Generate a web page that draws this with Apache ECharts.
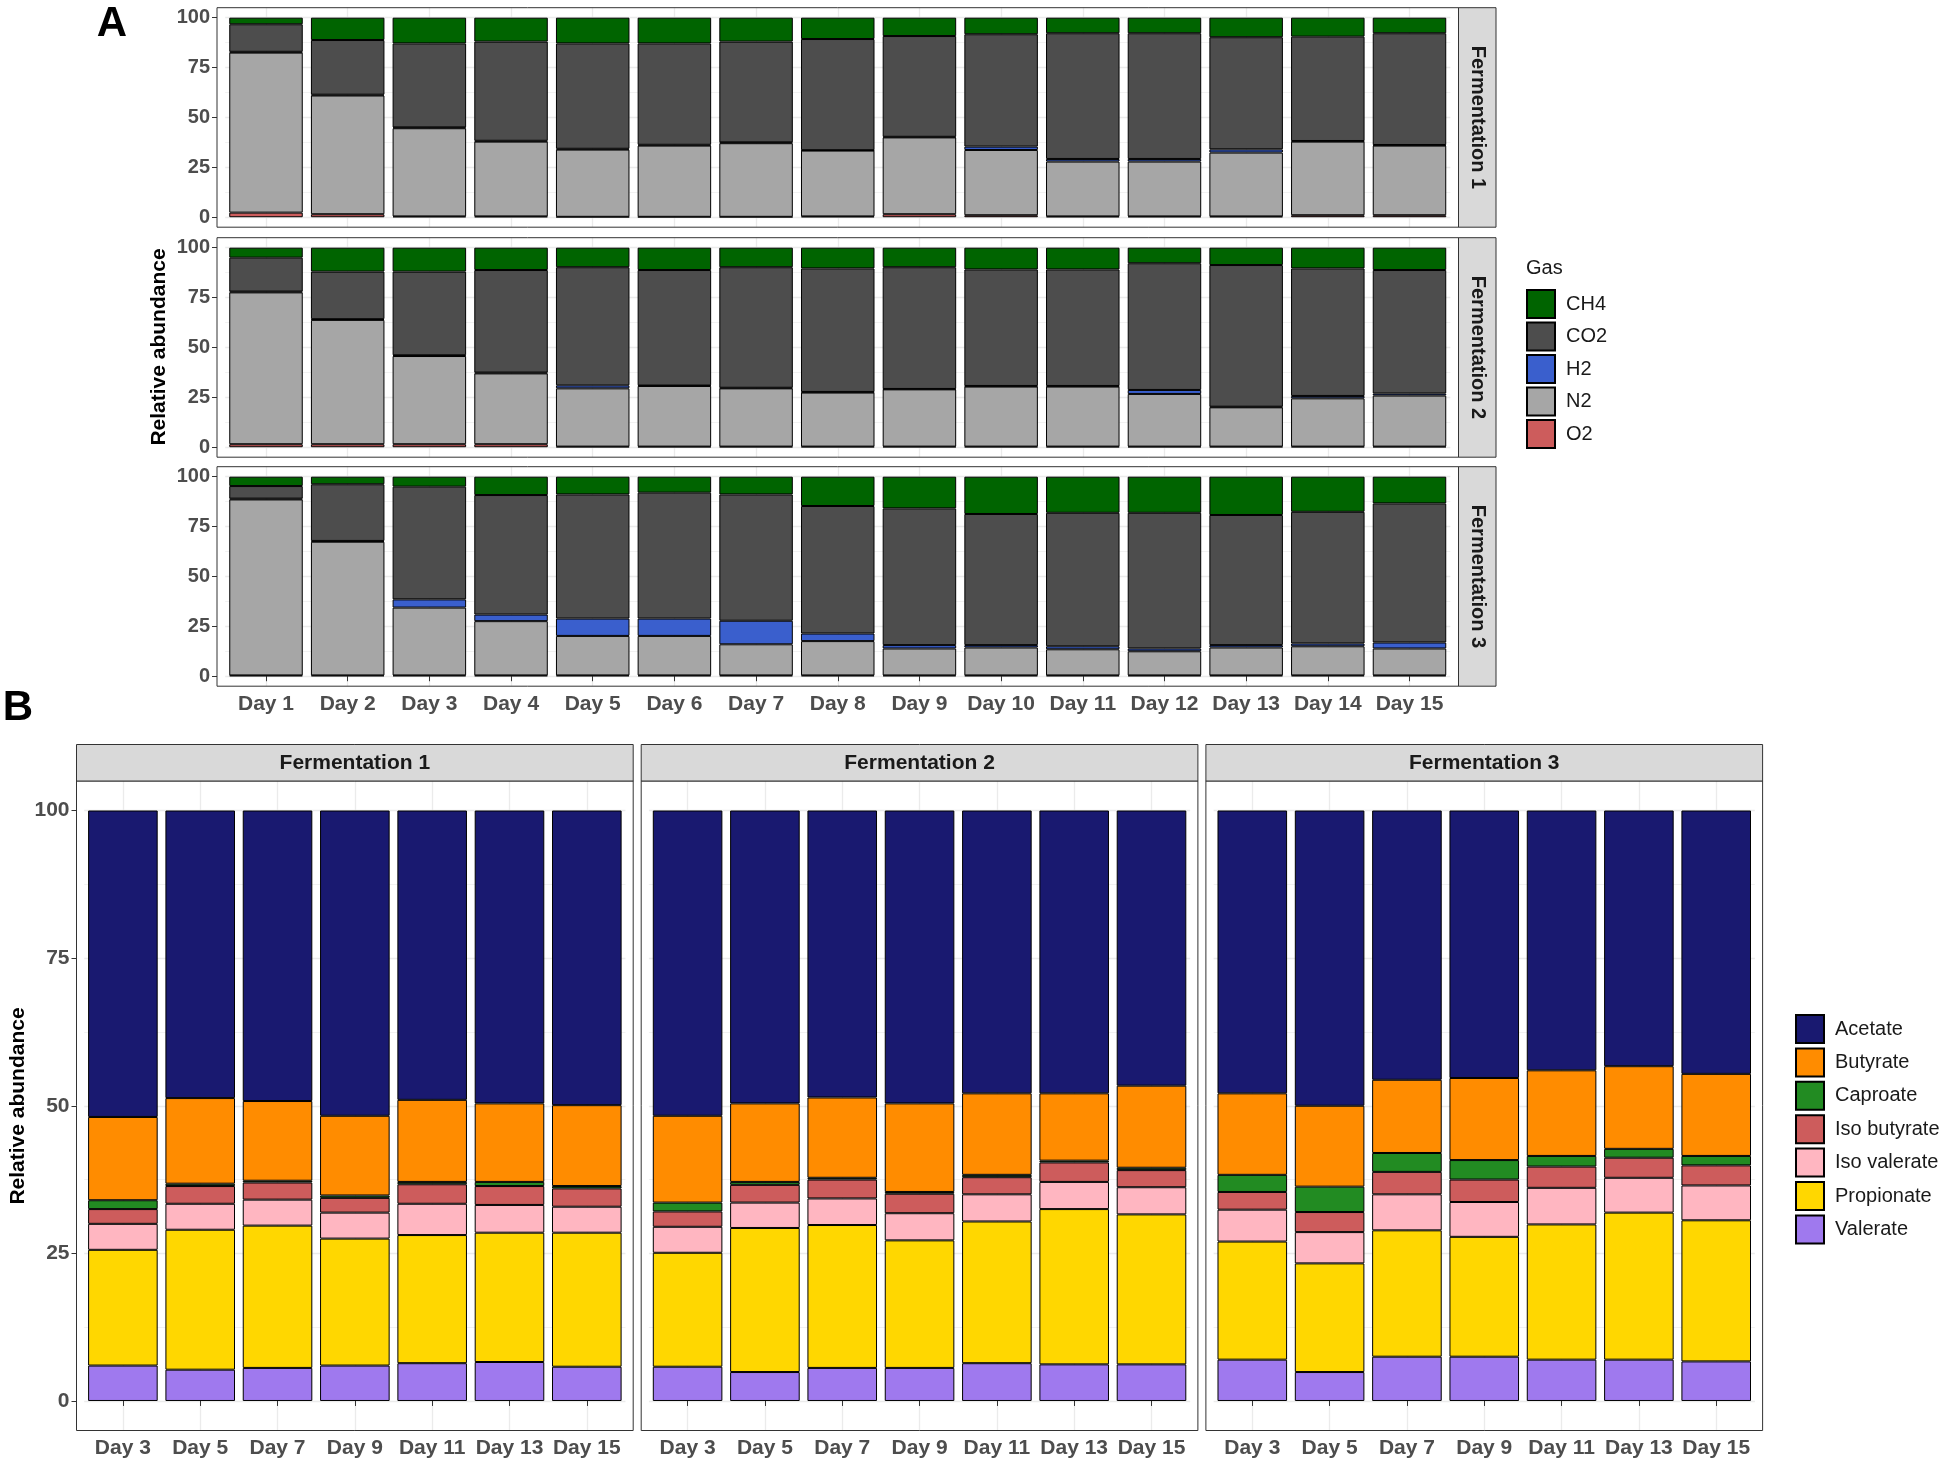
<!DOCTYPE html>
<html><head><meta charset="utf-8">
<script src="https://cdn.jsdelivr.net/npm/echarts@6/dist/echarts.min.js"></script>
<style>html,body{margin:0;padding:0;background:#fff}#c{width:1946px;height:1468px}</style>
</head><body><div id="c"></div>
<script>
// ---------- DATA: Panel A (gas composition, %) ----------
const gasDays = ['Day 1','Day 2','Day 3','Day 4','Day 5','Day 6','Day 7','Day 8','Day 9','Day 10','Day 11','Day 12','Day 13','Day 14','Day 15'];
const gasLegend = ['CH4','CO2','H2','N2','O2'];
const gasFacets = ['Fermentation 1','Fermentation 2','Fermentation 3'];
const yTicks = [0, 25, 50, 75, 100];
const yMinorTicks = [12.5, 37.5, 62.5, 87.5];

const F1_O2  = [2.3, 1.5, 0.4, 0.4, 0.2, 0.2, 0.2, 0.4, 1.5, 1.0, 0.4, 0.4, 0.4, 1.0, 1.0];
const F1_N2  = [80.2, 59.5, 44.2, 37.5, 33.7, 35.7, 36.9, 33.0, 38.5, 32.7, 27.5, 27.5, 32.0, 36.9, 34.9];
const F1_H2  = [0.4, 0.4, 0.4, 0.4, 0.4, 0.4, 0.4, 0.2, 0.3, 1.7, 1.3, 1.3, 1.6, 0.3, 0.3];
const F1_CO2 = [13.8, 27.4, 42.1, 49.7, 52.8, 50.8, 50.5, 55.7, 50.5, 56.3, 63.0, 63.0, 56.2, 52.3, 56.0];
const F1_CH4 = [3.3, 11.2, 12.9, 12.0, 12.9, 12.9, 12.0, 10.7, 9.2, 8.3, 7.8, 7.8, 9.8, 9.5, 7.8];

const F2_O2  = [1.5, 1.5, 1.5, 1.5, 0.3, 0.3, 0.3, 0.3, 0.3, 0.3, 0.3, 0.3, 0.3, 0.3, 0.3];
const F2_N2  = [76.1, 62.3, 44.2, 35.5, 29.2, 30.4, 29.2, 27.1, 28.7, 30.1, 30.1, 26.4, 19.7, 24.2, 25.6];
const F2_H2  = [0.4, 0.4, 0.4, 0.4, 1.5, 0.3, 0.3, 0.3, 0.2, 0.3, 0.3, 2.0, 0.3, 1.2, 1.0];
const F2_CO2 = [17.0, 23.8, 41.9, 51.4, 59.2, 57.8, 60.4, 61.9, 61.0, 58.4, 58.4, 63.5, 71.0, 63.9, 61.9];
const F2_CH4 = [5.0, 12.0, 12.0, 11.2, 9.8, 11.2, 9.8, 10.4, 9.8, 10.9, 10.9, 7.8, 8.7, 10.4, 11.2];

const F3_O2  = [0.4, 0.4, 0.4, 0.4, 0.4, 0.4, 0.4, 0.4, 0.4, 0.4, 0.4, 0.4, 0.4, 0.4, 0.4];
const F3_N2  = [88.2, 67.0, 34.0, 27.2, 19.8, 19.8, 15.6, 17.2, 13.5, 14.0, 13.1, 12.1, 14.0, 14.6, 13.5];
const F3_H2  = [0.4, 0.4, 4.1, 3.3, 8.7, 8.7, 11.8, 3.8, 1.7, 1.2, 1.5, 1.4, 1.2, 1.4, 3.0];
const F3_CO2 = [6.3, 28.4, 56.5, 59.9, 62.2, 63.1, 63.3, 63.9, 68.5, 65.7, 66.9, 68.0, 65.2, 66.0, 69.7];
const F3_CH4 = [4.7, 3.8, 5.0, 9.2, 8.9, 8.0, 8.9, 14.7, 15.9, 18.7, 18.1, 18.1, 19.2, 17.6, 13.4];

// ---------- DATA: Panel B (VFA composition, %) ----------
const vfaDays = ['Day 3','Day 5','Day 7','Day 9','Day 11','Day 13','Day 15'];
const vfaLegend = ['Acetate','Butyrate','Caproate','Iso butyrate','Iso valerate','Propionate','Valerate'];

const B1_Valerate    = [6.0, 5.3, 5.6, 6.0, 6.4, 6.6, 5.8];
const B1_Propionate  = [19.6, 23.7, 24.1, 21.5, 21.7, 21.9, 22.7];
const B1_IsoValerate = [4.4, 4.4, 4.4, 4.4, 5.3, 4.7, 4.4];
const B1_IsoButyrate = [2.5, 3.0, 2.9, 2.5, 3.3, 3.2, 3.1];
const B1_Caproate    = [1.5, 0.4, 0.3, 0.4, 0.4, 0.7, 0.4];
const B1_Butyrate    = [14.1, 14.5, 13.5, 13.5, 13.9, 13.3, 13.7];
const B1_Acetate     = [51.9, 48.7, 49.2, 51.7, 49.0, 49.6, 49.9];

const B2_Valerate    = [5.8, 4.9, 5.6, 5.6, 6.4, 6.2, 6.2];
const B2_Propionate  = [19.3, 24.4, 24.2, 21.6, 24.0, 26.3, 25.4];
const B2_IsoValerate = [4.4, 4.3, 4.5, 4.6, 4.6, 4.6, 4.6];
const B2_IsoButyrate = [2.6, 3.0, 3.2, 3.3, 2.9, 3.3, 2.9];
const B2_Caproate    = [1.5, 0.5, 0.3, 0.3, 0.4, 0.3, 0.4];
const B2_Butyrate    = [14.7, 13.3, 13.6, 15.0, 13.8, 11.4, 13.9];
const B2_Acetate     = [51.7, 49.6, 48.6, 49.6, 47.9, 47.9, 46.6];

const B3_Valerate    = [7.0, 4.9, 7.5, 7.5, 7.0, 7.0, 6.7];
const B3_Propionate  = [20.0, 18.4, 21.4, 20.3, 22.9, 24.9, 23.9];
const B3_IsoValerate = [5.4, 5.3, 6.1, 5.9, 6.2, 5.9, 5.9];
const B3_IsoButyrate = [3.0, 3.4, 3.8, 3.8, 3.6, 3.4, 3.4];
const B3_Caproate    = [2.9, 4.3, 3.2, 3.3, 1.8, 1.5, 1.6];
const B3_Butyrate    = [13.8, 13.7, 12.4, 13.9, 14.5, 14.0, 13.9];
const B3_Acetate     = [47.9, 50.0, 45.6, 45.3, 44.0, 43.3, 44.6];

// ---------- tables built from the arrays ----------
const gasRows = [
  {O2:F1_O2, N2:F1_N2, H2:F1_H2, CO2:F1_CO2, CH4:F1_CH4},
  {O2:F2_O2, N2:F2_N2, H2:F2_H2, CO2:F2_CO2, CH4:F2_CH4},
  {O2:F3_O2, N2:F3_N2, H2:F3_H2, CO2:F3_CO2, CH4:F3_CH4}
];
const vfaCols = [
  {'Valerate':B1_Valerate,'Propionate':B1_Propionate,'Iso valerate':B1_IsoValerate,'Iso butyrate':B1_IsoButyrate,'Caproate':B1_Caproate,'Butyrate':B1_Butyrate,'Acetate':B1_Acetate},
  {'Valerate':B2_Valerate,'Propionate':B2_Propionate,'Iso valerate':B2_IsoValerate,'Iso butyrate':B2_IsoButyrate,'Caproate':B2_Caproate,'Butyrate':B2_Butyrate,'Acetate':B2_Acetate},
  {'Valerate':B3_Valerate,'Propionate':B3_Propionate,'Iso valerate':B3_IsoValerate,'Iso butyrate':B3_IsoButyrate,'Caproate':B3_Caproate,'Butyrate':B3_Butyrate,'Acetate':B3_Acetate}
];

// ---------- styles / layout ----------
const FONT = '"Liberation Sans", Arial, Helvetica, sans-serif';
const gasColors = {CH4:'#006400', CO2:'#4d4d4d', H2:'#3a5fcd', N2:'#a6a6a6', O2:'#cd5c5c'};
const gasStack = ['O2','N2','H2','CO2','CH4'];
const vfaColors = {'Acetate':'#191970','Butyrate':'#ff8c00','Caproate':'#228b22','Iso butyrate':'#cd5c5c','Iso valerate':'#ffb6c1','Propionate':'#ffd700','Valerate':'#9f79ee'};
const vfaStack = ['Valerate','Propionate','Iso valerate','Iso butyrate','Caproate','Butyrate','Acetate'];

const A_L = 217, A_R = 1458.5, A_TOPS = [7.7, 237.7, 466.7], A_H = 219.5, A_STRIP_W = 37.5;
const B_LEFTS = [76.5, 641.2, 1205.9], B_W = 556.7, B_TOP = 781, B_H = 649.5, B_STRIP_H = 36.5;
const BORDER = '#333333', STRIP_FILL = '#d9d9d9', TICK_COL = '#4d4d4d', GRID_COL = '#ebebeb';

const grid = [], xAxis = [], yAxis = [], series = [], graphic = [];

// faint panel grid (theme_bw style), drawn behind the bars through the axes
function gridLines(gi, cats) {
  const data = [];
  yTicks.forEach(v => data.push({yAxis: v, lineStyle: {width: 1.3}}));
  yMinorTicks.forEach(v => data.push({yAxis: v, lineStyle: {width: 0.7}}));
  cats.forEach(c => data.push({xAxis: c, lineStyle: {width: 1.3}}));
  return {type:'line', name:'_grid' + gi, xAxisIndex:gi, yAxisIndex:gi, data:[], z:0, silent:true,
    markLine:{silent:true, symbol:'none', label:{show:false}, animation:false, z:0,
      lineStyle:{color:GRID_COL, type:'solid'}, emphasis:{disabled:true}, data}};
}

// Panel A
const sA = (A_R - A_L) / (gasDays.length + 0.2);
gasRows.forEach((row, i) => {
  const gi = grid.length;
  grid.push({left: A_L + 0.1 * sA, top: A_TOPS[i], width: sA * gasDays.length, height: A_H});
  xAxis.push({type:'category', gridIndex:gi, data:gasDays, axisLine:{show:false},
    axisTick:{show:i===2, alignWithLabel:true, length:5, lineStyle:{color:BORDER, width:1}},
    axisLabel:{show:i===2, interval:0, margin:8, fontSize:21, fontWeight:'bold', color:TICK_COL, fontFamily:FONT},
    splitLine:{show:false}});
  yAxis.push({type:'value', gridIndex:gi, min:-5, max:105, interval:5, offset:0.1 * sA,
    axisLine:{show:false},
    axisTick:{show:true, customValues:yTicks, length:5, lineStyle:{color:BORDER, width:1}},
    axisLabel:{customValues:yTicks, margin:7, fontSize:20, fontWeight:'bold', color:TICK_COL, fontFamily:FONT},
    splitLine:{show:false}});
  series.push(gridLines(gi, gasDays));
  gasStack.forEach(g => {
    series.push({type:'bar', name:g, xAxisIndex:gi, yAxisIndex:gi, stack:'gas' + i, data:row[g], z:2,
      barWidth:'90%', itemStyle:{color:gasColors[g], borderColor:'#000', borderWidth:1}});
  });
  graphic.push({type:'rect', shape:{x:A_L, y:A_TOPS[i], width:A_R - A_L, height:A_H},
    style:{fill:'none', stroke:BORDER, lineWidth:1}, z:100});
  graphic.push({type:'rect', shape:{x:A_R, y:A_TOPS[i], width:A_STRIP_W, height:A_H},
    style:{fill:STRIP_FILL, stroke:BORDER, lineWidth:1}, z:100});
  graphic.push({type:'text', x:A_R + A_STRIP_W / 2, y:A_TOPS[i] + A_H / 2, rotation:-Math.PI / 2, z:101,
    style:{text:gasFacets[i], font:'bold 20px ' + FONT, fill:'#1a1a1a', align:'center', verticalAlign:'middle', textAlign:'center', textVerticalAlign:'middle'}});
});

// Panel B
const sB = B_W / (vfaDays.length + 0.2);
vfaCols.forEach((col, j) => {
  const gi = grid.length;
  const L = B_LEFTS[j];
  grid.push({left: L + 0.1 * sB, top: B_TOP, width: sB * vfaDays.length, height: B_H});
  xAxis.push({type:'category', gridIndex:gi, data:vfaDays, axisLine:{show:false},
    axisTick:{show:true, alignWithLabel:true, length:5, lineStyle:{color:BORDER, width:1}},
    axisLabel:{show:true, interval:0, margin:7, fontSize:21, fontWeight:'bold', color:TICK_COL, fontFamily:FONT},
    splitLine:{show:false}});
  yAxis.push({type:'value', gridIndex:gi, min:-5, max:105, interval:5, offset:0.1 * sB,
    axisLine:{show:false},
    axisTick:{show:j===0, customValues:yTicks, length:5, lineStyle:{color:BORDER, width:1}},
    axisLabel:{show:j===0, customValues:yTicks, margin:7, fontSize:21, fontWeight:'bold', color:TICK_COL, fontFamily:FONT},
    splitLine:{show:false}});
  series.push(gridLines(gi, vfaDays));
  vfaStack.forEach(v => {
    series.push({type:'bar', name:v, xAxisIndex:gi, yAxisIndex:gi, stack:'vfa' + j, data:col[v], z:2,
      barWidth:'90%', itemStyle:{color:vfaColors[v], borderColor:'#000', borderWidth:1}});
  });
  graphic.push({type:'rect', shape:{x:L, y:B_TOP, width:B_W, height:B_H},
    style:{fill:'none', stroke:BORDER, lineWidth:1}, z:100});
  graphic.push({type:'rect', shape:{x:L, y:B_TOP - B_STRIP_H, width:B_W, height:B_STRIP_H},
    style:{fill:STRIP_FILL, stroke:BORDER, lineWidth:1}, z:100});
  graphic.push({type:'text', x:L + B_W / 2, y:B_TOP - B_STRIP_H / 2, z:101,
    style:{text:gasFacets[j], font:'bold 21px ' + FONT, fill:'#1a1a1a', align:'center', verticalAlign:'middle', textAlign:'center', textVerticalAlign:'middle'}});
});

// titles, panel letters, legend title
const txt = (text, x, y, font, rot, fill) => ({type:'text', x, y, rotation:rot || 0, z:101,
  style:{text, font, fill:fill || '#000', align:'center', verticalAlign:'middle', textAlign:'center', textVerticalAlign:'middle'}});
graphic.push(txt('A', 112, 24, 'bold 42px ' + FONT));
graphic.push(txt('B', 18, 708, 'bold 42px ' + FONT));
graphic.push(txt('Relative abundance', 159, 347, 'bold 21px ' + FONT, Math.PI / 2));
graphic.push(txt('Relative abundance', 18, 1106, 'bold 21px ' + FONT, Math.PI / 2));
graphic.push({type:'text', x:1526, y:268, z:101,
  style:{text:'Gas', font:'20px ' + FONT, fill:'#1a1a1a', align:'left', verticalAlign:'middle', textAlign:'left', textVerticalAlign:'middle'}});

const legend = [
  {data:gasLegend, orient:'vertical', left:1526, top:289, itemWidth:28, itemHeight:28, itemGap:2.5, icon:'rect',
   selectedMode:false, padding:0, textStyle:{fontSize:20, color:'#1a1a1a', fontFamily:FONT, padding:[0,0,0,6]}},
  {data:vfaLegend, orient:'vertical', left:1795, top:1014, itemWidth:28, itemHeight:28, itemGap:3.4, icon:'rect',
   selectedMode:false, padding:0, textStyle:{fontSize:20, color:'#1a1a1a', fontFamily:FONT, padding:[0,0,0,6]}}
];

const chart = echarts.init(document.getElementById('c'), null, {renderer:'canvas'});
chart.setOption({animation:false, backgroundColor:'#fff', grid, xAxis, yAxis, series, legend, graphic});
</script></body></html>
